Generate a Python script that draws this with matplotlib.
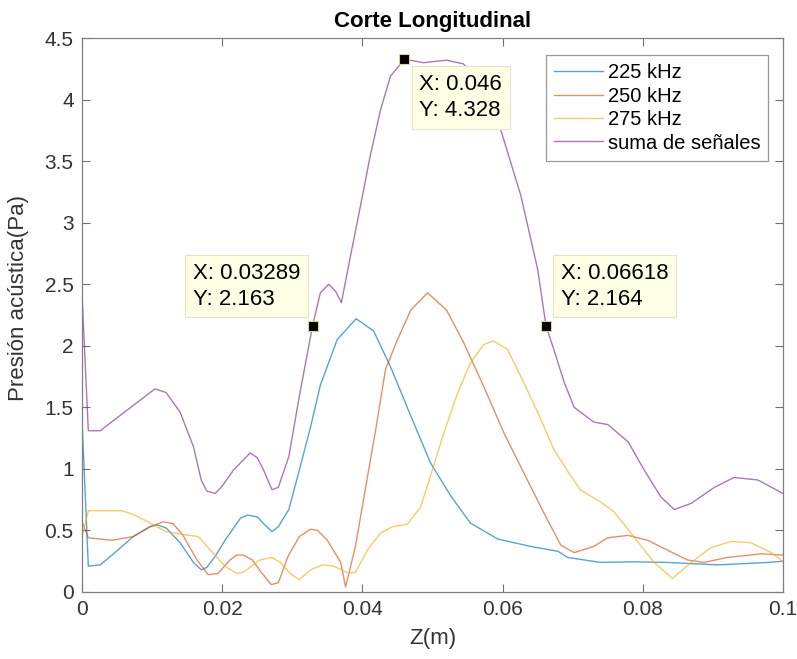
import matplotlib.pyplot as plt

plt.rcParams['font.family'] = ['Liberation Sans', 'DejaVu Sans']

# 225 kHz
z_225 = [0.0, 0.0009, 0.0026, 0.0047, 0.0073, 0.0097, 0.0107, 0.012, 0.014, 0.0159, 0.017, 0.0178,
         0.019, 0.0204, 0.0226, 0.0236, 0.025, 0.026, 0.0271, 0.028, 0.0295, 0.031, 0.0326, 0.034,
         0.0364, 0.0391, 0.0416, 0.044, 0.0469, 0.0497, 0.0526, 0.0554, 0.0593, 0.064, 0.0679,
         0.0693, 0.074, 0.0788, 0.0835, 0.0907, 0.0979, 0.1]
p_225 = [1.40, 0.21, 0.22, 0.32, 0.45, 0.53, 0.545, 0.52, 0.40, 0.24, 0.18, 0.20,
         0.29, 0.42, 0.60, 0.625, 0.61, 0.55, 0.49, 0.53, 0.67, 0.99, 1.34, 1.68,
         2.05, 2.22, 2.12, 1.83, 1.43, 1.05, 0.78, 0.56, 0.43, 0.37, 0.33,
         0.28, 0.24, 0.245, 0.24, 0.22, 0.24, 0.25]

# 250 kHz
z_250 = [0.0, 0.0009, 0.0043, 0.0073, 0.0097, 0.0116, 0.013, 0.0144, 0.0164, 0.018, 0.0194, 0.0211,
         0.0221, 0.023, 0.0243, 0.0257, 0.027, 0.028, 0.0294, 0.031, 0.0326, 0.0336, 0.035, 0.0369,
         0.0376, 0.039, 0.0404, 0.0419, 0.0433, 0.045, 0.0469, 0.0493, 0.052, 0.0544, 0.0573,
         0.0602, 0.063, 0.0659, 0.0683, 0.0702, 0.073, 0.075, 0.0779, 0.0807, 0.0835, 0.0864,
         0.0887, 0.092, 0.0969, 0.1]
p_250 = [0.57, 0.44, 0.42, 0.45, 0.53, 0.57, 0.555, 0.46, 0.26, 0.14, 0.15, 0.26,
         0.30, 0.30, 0.26, 0.15, 0.06, 0.075, 0.29, 0.45, 0.51, 0.50, 0.42, 0.24,
         0.04, 0.37, 0.83, 1.32, 1.81, 2.05, 2.29, 2.43, 2.29, 2.03, 1.67,
         1.29, 0.97, 0.64, 0.38, 0.32, 0.37, 0.44, 0.46, 0.42, 0.34, 0.26,
         0.24, 0.28, 0.31, 0.30]

# 275 kHz
z_275 = [0.0, 0.0009, 0.0026, 0.0057, 0.0073, 0.0097, 0.012, 0.014, 0.0166, 0.0183, 0.0204, 0.0221,
         0.023, 0.0254, 0.0271, 0.0283, 0.0297, 0.031, 0.0326, 0.0343, 0.0359, 0.0379, 0.039,
         0.0407, 0.0426, 0.0443, 0.0464, 0.0483, 0.0497, 0.0516, 0.0536, 0.0554, 0.0573, 0.0587,
         0.0607, 0.0626, 0.065, 0.0673, 0.0694, 0.0711, 0.074, 0.0759, 0.0787, 0.0816, 0.0842,
         0.0869, 0.0897, 0.0926, 0.0954, 0.0983, 0.1]
p_275 = [0.45, 0.66, 0.66, 0.66, 0.63, 0.56, 0.49, 0.47, 0.45, 0.34, 0.21, 0.15,
         0.16, 0.26, 0.28, 0.24, 0.15, 0.10, 0.18, 0.22, 0.21, 0.155, 0.16,
         0.34, 0.48, 0.53, 0.55, 0.69, 0.94, 1.29, 1.62, 1.86, 2.01, 2.04,
         1.97, 1.75, 1.46, 1.16, 0.97, 0.83, 0.73, 0.65, 0.45, 0.24, 0.11,
         0.24, 0.36, 0.41, 0.40, 0.32, 0.245]

# suma de señales
z_sum = [0.0, 0.0009, 0.0026, 0.0104, 0.012, 0.014, 0.0159, 0.017, 0.0178, 0.019, 0.020, 0.0216,
         0.024, 0.025, 0.0259, 0.0271, 0.028, 0.0295, 0.031, 0.03289, 0.034, 0.0352, 0.0362, 0.037,
         0.0383, 0.0397, 0.0411, 0.0426, 0.044, 0.046, 0.0487, 0.052, 0.0544, 0.0565, 0.0597,
         0.0626, 0.065, 0.06618, 0.0673, 0.0688, 0.0702, 0.073, 0.075, 0.0779, 0.0802, 0.0826,
         0.0845, 0.0869, 0.0902, 0.093, 0.0964, 0.1]
p_sum = [2.42, 1.31, 1.31, 1.65, 1.62, 1.46, 1.18, 0.91, 0.82, 0.80, 0.86, 0.99,
         1.13, 1.09, 0.99, 0.83, 0.85, 1.10, 1.59, 2.163, 2.43, 2.50, 2.44, 2.35,
         2.73, 3.13, 3.54, 3.92, 4.19, 4.328, 4.30, 4.32, 4.29, 4.15, 3.76,
         3.22, 2.62, 2.164, 1.97, 1.70, 1.50, 1.38, 1.36, 1.22, 0.99, 0.77,
         0.67, 0.72, 0.85, 0.93, 0.91, 0.80]

labels = ['225 kHz', '250 kHz', '275 kHz', 'suma de señales']
colors = ['#0072BD', '#D95319', '#EDB120', '#7E2F8E']

# marked points on the sum curve
tip_z = [0.03289, 0.046, 0.06618]
tip_p = [2.163, 4.328, 2.164]
tip_text = ['X: 0.03289\nY: 2.163', 'X: 0.046\nY: 4.328', 'X: 0.06618\nY: 2.164']
tip_offset = [(-120, 16), (15, -15), (15, 16)]
tip_va = ['bottom', 'top', 'bottom']

fig = plt.figure(figsize=(7.97, 6.59), dpi=100)
ax = fig.add_axes([0.1029, 0.1017, 0.8796, 0.8406])

for z, p, lab, c in zip([z_225, z_250, z_275, z_sum], [p_225, p_250, p_275, p_sum], labels, colors):
    ax.plot(z, p, color=c, lw=1.0, alpha=0.65, label=lab)

for z, p, txt, off, va in zip(tip_z, tip_p, tip_text, tip_offset, tip_va):
    ax.plot(z, p, 's', color='black', ms=7, mec='#D8D2A0', mew=0.8, zorder=5)
    ax.annotate(txt, xy=(z, p), xytext=off, textcoords='offset pixels', va=va, ha='left',
                fontsize=16, linespacing=1.3,
                bbox=dict(boxstyle='square,pad=0.35', fc='#FFFFE6', ec='#E4E4C8', lw=0.8),
                zorder=6)

ax.set_xlim(0, 0.1)
ax.set_ylim(0, 4.5)
ax.set_xticks([0, 0.02, 0.04, 0.06, 0.08, 0.1])
ax.set_xticklabels(['0', '0.02', '0.04', '0.06', '0.08', '0.1'])
ax.set_yticks([0, 0.5, 1, 1.5, 2, 2.5, 3, 3.5, 4, 4.5])
ax.set_yticklabels(['0', '0.5', '1', '1.5', '2', '2.5', '3', '3.5', '4', '4.5'])
ax.tick_params(direction='in', top=True, right=True, length=6, width=0.8,
               color='#707070', labelcolor='#333333', labelsize=15, pad=6)
for s in ax.spines.values():
    s.set_color('#808080')
    s.set_linewidth(0.9)

ax.set_xlabel('Z(m)', fontsize=16, color='#333333', labelpad=6)
ax.set_ylabel('Presión acústica(Pa)', fontsize=16, color='#333333', labelpad=8)
ax.yaxis.set_label_coords(-0.075, 0.53)
ax.set_title('Corte Longitudinal', fontsize=16, fontweight='bold', pad=8)

leg = ax.legend(loc='upper right', bbox_to_anchor=(0.979, 0.969), fontsize=14.5, frameon=True,
                fancybox=False, edgecolor='#808080', handlelength=2.4, handletextpad=0.25,
                borderpad=0.4, labelspacing=0.22, borderaxespad=0)
leg.get_frame().set_linewidth(0.9)

fig.savefig('out.png', dpi=100)
